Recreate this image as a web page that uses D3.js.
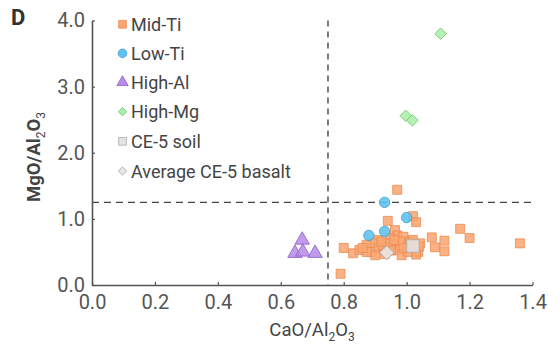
<!DOCTYPE html>
<html><head><meta charset="utf-8">
<script src="https://cdn.jsdelivr.net/npm/d3@7"></script>
<style>
html,body{margin:0;padding:0;background:#fff;}
text{font-family:Roboto,"Noto Sans",sans-serif;}
</style></head>
<body><svg id="c" width="560" height="349"></svg>
<script>
const seriesNames = ["Mid-Ti","Low-Ti","High-Al","High-Mg","CE-5 soil","Average CE-5 basalt"];
const midTi = [[0.97,1.44],[1.02,1.04],[1.03,0.95],[0.94,0.97],[1.17,0.85],[1.20,0.71],[1.08,0.72],[1.12,0.67],[1.09,0.57],[1.12,0.51],[1.36,0.63],[0.80,0.56],[0.79,0.17],[0.83,0.48],[0.85,0.53],[0.963,0.83],[0.97,0.75],[0.947,0.71],[0.99,0.73],[0.91,0.68],[0.894,0.63],[0.873,0.61],[0.889,0.50],[0.91,0.555],[0.926,0.58],[0.958,0.60],[0.974,0.53],[0.984,0.45],[1.005,0.50],[1.037,0.50],[1.043,0.63],[1.01,0.655],[1.0,0.58],[0.90,0.45],[0.873,0.50],[0.94,0.63],[0.92,0.655],[1.04,0.58],[0.95,0.52],[0.98,0.66],[0.86,0.56],[0.96,0.68],[0.99,0.56],[1.02,0.68],[0.93,0.47],[1.03,0.46]];
const lowTi = [[0.93,1.25],[1.0,1.02],[0.88,0.75],[0.93,0.81]];
const highAl = [[0.668,0.68],[0.645,0.48],[0.67,0.50],[0.709,0.48]];
const highMg = [[1.108,3.80],[0.997,2.56],[1.018,2.49]];
const soil = [[1.02,0.59]];
const basalt = [[0.937,0.49]];
const xTicks = [0,0.2,0.4,0.6,0.8,1.0,1.2,1.4];
const yTicks = [0,1,2,3,4];
const thresholdX = 0.75, thresholdY = 1.25;

const svg = d3.select("#c");
const x = d3.scaleLinear().domain([0,1.4]).range([92,532.5]);
const y = d3.scaleLinear().domain([0,4]).range([285,20.5]);
const axisCol = "#555";

// dashed reference lines
svg.append("line").attr("x1",x(thresholdX)).attr("x2",x(thresholdX)).attr("y1",y(4)).attr("y2",y(0))
  .attr("stroke","#444").attr("stroke-width",1.4).attr("stroke-dasharray","6,5");
svg.append("line").attr("x1",x(0)).attr("x2",x(1.4)).attr("y1",y(thresholdY)).attr("y2",y(thresholdY))
  .attr("stroke","#444").attr("stroke-width",1.4).attr("stroke-dasharray","7,5");

// axes
const xa = svg.append("g").attr("transform",`translate(0,${y(0)})`)
  .call(d3.axisBottom(x).tickValues(xTicks).tickFormat(d3.format(".1f")).tickSizeInner(-3).tickSizeOuter(0).tickPadding(10));
const ya = svg.append("g").attr("transform",`translate(${x(0)},0)`)
  .call(d3.axisLeft(y).tickValues(yTicks).tickFormat(d3.format(".1f")).tickSizeInner(-3).tickSizeOuter(0).tickPadding(7));
[xa,ya].forEach(a=>{
  a.select(".domain").attr("stroke",axisCol).attr("stroke-width",1.6);
  a.selectAll(".tick line").attr("stroke",axisCol).attr("stroke-width",1.2);
  a.selectAll(".tick text").attr("fill","#555").attr("font-size",20).attr("font-family","Roboto");
});

const sym = (type,size)=>d3.symbol().type(type).size(size)();
const styles = {
  mid:{fill:"#F9A672",stroke:"#EC8B50"},
  low:{fill:"#5EC1EE",stroke:"#3C9ED3"},
  al:{fill:"#BA8DE8",stroke:"#8C5CCB"},
  mg:{fill:"#A9F0A9",stroke:"#74C474"},
  soil:{fill:"#E4E4E4",stroke:"#A9A9A9"},
  bas:{fill:"#E8E8E8",stroke:"#A3A3A3"}
};
function plot(data, st, path, rot){
  svg.append("g").selectAll("path").data(data).join("path")
    .attr("d",path)
    .attr("transform",d=>`translate(${x(d[0])},${y(d[1])})${rot?" rotate(45)":""}`)
    .attr("fill",st.fill).attr("fill-opacity",0.88).attr("stroke",st.stroke).attr("stroke-width",0.8);
}
plot(midTi, styles.mid, sym(d3.symbolSquare,80));
plot(lowTi, styles.low, sym(d3.symbolCircle,85));
plot(highAl, styles.al, sym(d3.symbolTriangle,90));
plot(highMg, styles.mg, sym(d3.symbolSquare,66), true);
plot(soil, styles.soil, sym(d3.symbolSquare,155));
plot(basalt, styles.bas, sym(d3.symbolSquare,100), true);

// legend
const legItems = [
  {name:seriesNames[0],st:styles.mid,p:sym(d3.symbolSquare,60),r:false},
  {name:seriesNames[1],st:styles.low,p:sym(d3.symbolCircle,58),r:false},
  {name:seriesNames[2],st:styles.al,p:sym(d3.symbolTriangle,55),r:false},
  {name:seriesNames[3],st:styles.mg,p:sym(d3.symbolSquare,34),r:true},
  {name:seriesNames[4],st:styles.soil,p:sym(d3.symbolSquare,60),r:false},
  {name:seriesNames[5],st:styles.bas,p:sym(d3.symbolSquare,34),r:true}
];
const legY = [24.3,53.3,82.3,111.7,141.3,171];
const lg = svg.append("g").selectAll("g").data(legItems).join("g")
  .attr("transform",(d,i)=>`translate(122.5,${legY[i]})`);
lg.append("path").attr("d",d=>d.p).attr("transform",d=>d.r?"rotate(45)":null)
  .attr("fill",d=>d.st.fill).attr("stroke",d=>d.st.stroke).attr("stroke-width",0.8);
lg.append("text").attr("x",8.5).attr("y",6.5).attr("font-size",18).attr("fill","#444").text(d=>d.name);

// titles
const xt = svg.append("text").attr("x",312).attr("y",336).attr("text-anchor","middle")
  .attr("font-size",18.5).attr("fill","#444");
[["CaO/Al",0],["2",1],["O",0],["3",1]].forEach(([s,b])=>{
  xt.append("tspan").text(s).attr("font-size",b?12:18.5).attr("baseline-shift",b?"-5":null);
});
const yt = svg.append("text").attr("transform","translate(40,157) rotate(-90)").attr("text-anchor","middle")
  .attr("font-size",18.5).attr("font-weight","bold").attr("fill","#444");
[["MgO/Al",0],["2",1],["O",0],["3",1]].forEach(([s,b])=>{
  yt.append("tspan").text(s).attr("font-size",b?12:18.5).attr("font-weight",b?"normal":"bold").attr("baseline-shift",b?"-5":null);
});
svg.append("text").attr("x",11).attr("y",25).attr("font-size",22).attr("font-weight","bold").attr("fill","#333").text("D");
</script></body></html>
